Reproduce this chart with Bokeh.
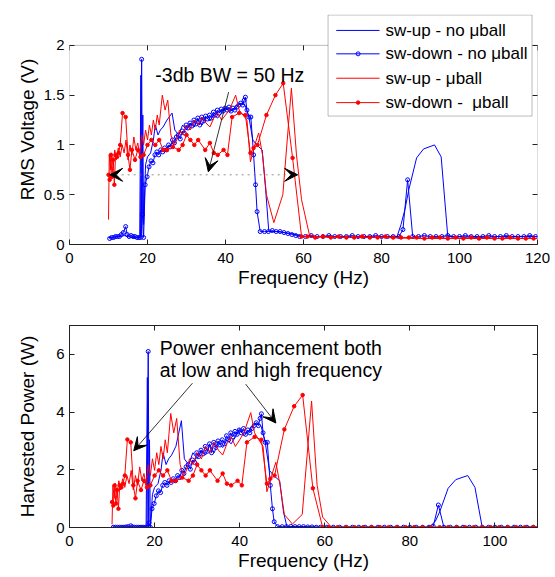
from bokeh.plotting import figure
from bokeh.models import (Range1d, LinearAxis, Label, Arrow, VeeHead, FixedTicker,
                          BoxAnnotation)
from bokeh.layouts import column
from bokeh.embed import file_html
from bokeh.resources import INLINE

FONT = "Liberation Sans"
BLUE = "#0000FF"
RED = "#FF0000"
AX = "#222222"

# ---------------- data (frequency in Hz) ----------------
# sw-up - no ball
f_up_nb = [10, 11, 12, 13, 14, 15, 16, 17, 18, 18.3,
           18.5, 18.8, 19.0, 19.5, 20.0, 20.8, 21.5, 22.0, 22.7, 23.3,
           24.0, 25.0, 26.3, 27.0, 28.0, 29.0, 30.0, 31.0, 32.0, 33.0,
           34.0, 35.0, 36.0, 37.0, 38.0, 39.0, 40.0, 41.0, 42.0, 43.0,
           44.0, 45.0, 46.0, 47.0, 48.0, 49.4, 50.3, 51.1, 53.0, 55.0,
           57.0, 60.0, 65.0, 70.0, 75.0, 80.0, 84.0, 85.0, 86.0, 87.0,
           89.0, 90.8, 93.6, 95.3, 97.0, 100.0, 105.0, 110.0, 115.0, 120.0]
v_up_nb = [0.07, 0.07, 0.08, 0.08, 0.09, 0.08, 0.07, 0.07, 0.07, 1.70,
           0.08, 1.30, 0.20, 0.80, 0.88, 0.92, 1.05, 1.20, 1.10, 1.15,
           1.18, 1.25, 1.32, 1.15, 1.10, 1.20, 1.15, 1.22, 1.18, 1.26,
           1.20, 1.28, 1.24, 1.30, 1.27, 1.32, 1.38, 1.33, 1.36, 1.40,
           1.42, 1.40, 1.28, 1.05, 1.00, 0.95, 0.55, 0.13, 0.13, 0.12,
           0.11, 0.08, 0.08, 0.08, 0.07, 0.08, 0.08, 0.20, 0.35, 0.55,
           0.87, 0.96, 1.00, 0.88, 0.08, 0.08, 0.07, 0.08, 0.08, 0.08]
p_up_nb = [0.01, 0.01, 0.01, 0.01, 0.01, 0.01, 0.01, 0.01, 0.01, 5.20,
           0.01, 3.04, 0.07, 1.15, 1.39, 1.52, 1.98, 2.59, 2.18, 2.38,
           2.51, 2.81, 3.70, 2.38, 2.18, 2.59, 2.38, 2.68, 2.51, 2.86,
           2.59, 2.95, 2.77, 3.04, 2.90, 3.14, 3.43, 3.18, 3.33, 3.53,
           3.63, 3.53, 2.95, 1.98, 1.80, 1.62, 0.54, 0.03, 0.03, 0.03,
           0.02, 0.01, 0.01, 0.01, 0.01, 0.01, 0.01, 0.07, 0.22, 0.54,
           1.36, 1.66, 1.80, 1.39, 0.01, 0.01, 0.01, 0.01, 0.01, 0.01]

# sw-down - no ball
f_dn_nb = [10.3, 10.8, 11.3, 11.8, 12.3, 12.8, 13.3, 13.8, 14.4, 14.8,
           15.3, 15.8, 16.3, 16.8, 17.3, 17.8, 18.2, 18.5, 18.7, 19.0,
           19.4, 19.9, 20.4, 20.9, 21.4, 21.9, 22.4, 22.9, 23.4, 23.9,
           24.4, 24.9, 25.4, 25.9, 26.4, 26.9, 27.4, 27.9, 28.4, 28.9,
           29.4, 29.9, 30.4, 30.9, 31.4, 31.9, 32.4, 32.9, 33.4, 33.9,
           34.4, 34.9, 35.4, 35.9, 36.4, 36.9, 37.4, 37.9, 38.4, 38.9,
           39.4, 39.9, 40.4, 40.9, 41.4, 41.9, 42.4, 42.9, 43.4, 43.9,
           44.4, 44.8, 45.1, 45.5, 46.0, 46.5, 47.2, 47.7, 48.1, 48.9,
           50.0, 51.0, 52.0, 53.0, 54.0, 55.0, 56.0, 57.0, 58.0, 59.0,
           60.5, 62.0, 63.5, 65.0, 66.5, 68.0, 69.5, 71.0, 72.5, 74.0,
           75.5, 77.0, 78.5, 80.0, 81.5, 83.0, 84.5, 85.5, 86.7, 88.0,
           89.5, 91.0, 92.5, 94.0, 95.5, 97.0, 98.5, 100.0, 101.5, 103.0,
           104.5, 106.0, 107.5, 109.0, 110.5, 112.0, 113.5, 115.0, 116.5, 118.0,
           119.5]
v_dn_nb = [0.06, 0.07, 0.07, 0.08, 0.08, 0.08, 0.10, 0.12, 0.18, 0.10,
           0.08, 0.09, 0.08, 0.08, 0.07, 0.07, 0.07, 1.86, 0.30, 0.07,
           0.60, 0.68, 0.78, 0.84, 0.82, 0.90, 0.93, 0.90, 0.95, 0.93,
           0.97, 0.95, 1.00, 0.98, 1.05, 1.02, 1.08, 1.10, 1.06, 1.14,
           1.12, 1.20, 1.17, 1.22, 1.19, 1.25, 1.21, 1.27, 1.20, 1.28,
           1.24, 1.29, 1.26, 1.30, 1.27, 1.33, 1.30, 1.35, 1.32, 1.36,
           1.34, 1.37, 1.35, 1.38, 1.34, 1.37, 1.35, 1.38, 1.40, 1.42,
           1.40, 1.45, 1.48, 1.35, 1.28, 1.28, 0.90, 0.60, 0.33, 0.13,
           0.13, 0.13, 0.14, 0.13, 0.13, 0.12, 0.11, 0.10, 0.09, 0.08,
           0.08, 0.09, 0.08, 0.08, 0.09, 0.08, 0.08, 0.08, 0.09, 0.08,
           0.08, 0.08, 0.09, 0.08, 0.08, 0.08, 0.08, 0.15, 0.65, 0.08,
           0.08, 0.09, 0.08, 0.08, 0.08, 0.09, 0.08, 0.08, 0.09, 0.08,
           0.08, 0.08, 0.09, 0.08, 0.08, 0.09, 0.08, 0.08, 0.08, 0.09,
           0.08]
p_dn_nb = [0.01, 0.01, 0.01, 0.01, 0.01, 0.01, 0.02, 0.03, 0.06, 0.02,
           0.01, 0.01, 0.01, 0.01, 0.01, 0.01, 0.01, 6.10, 0.16, 0.01,
           0.65, 0.83, 1.10, 1.27, 1.21, 1.46, 1.56, 1.46, 1.62, 1.56,
           1.69, 1.62, 1.80, 1.73, 1.98, 1.87, 2.10, 2.18, 2.02, 2.34,
           2.26, 2.59, 2.46, 2.68, 2.55, 2.81, 2.64, 2.90, 2.59, 2.95,
           2.77, 3.00, 2.86, 3.04, 2.90, 3.18, 3.04, 3.28, 3.14, 3.33,
           3.23, 3.38, 3.28, 3.43, 3.23, 3.38, 3.28, 3.43, 3.53, 3.63,
           3.53, 3.78, 3.94, 3.28, 2.95, 2.95, 1.46, 0.65, 0.20, 0.03,
           0.03, 0.03, 0.04, 0.03, 0.03, 0.03, 0.02, 0.02, 0.01, 0.01,
           0.01, 0.01, 0.01, 0.01, 0.01, 0.01, 0.01, 0.01, 0.01, 0.01,
           0.01, 0.01, 0.01, 0.01, 0.01, 0.01, 0.01, 0.04, 0.78, 0.01,
           0.01, 0.01, 0.01, 0.01, 0.01, 0.01, 0.01, 0.01, 0.01, 0.01,
           0.01, 0.01, 0.01, 0.01, 0.01, 0.01, 0.01, 0.01, 0.01, 0.01,
           0.01]

# sw-up - ball
f_up_b = [10.0, 10.2, 10.5, 10.8, 11.2, 11.6, 12.0, 12.5, 13.0, 13.5,
          14.0, 14.5, 15.0, 15.5, 16.0, 16.5, 17.0, 17.5, 18.0, 18.5,
          19.0, 19.5, 20.0, 20.5, 21.0, 21.5, 22.0, 22.5, 23.0, 23.8,
          24.5, 25.2, 26.0, 26.8, 27.5, 28.2, 29.0, 30.0, 31.0, 32.0,
          33.0, 34.0, 35.0, 36.0, 37.0, 38.0, 39.0, 40.0, 41.0, 42.6,
          43.5, 44.5, 45.5, 46.4, 47.5, 48.5, 49.5, 50.5, 52.4, 54.7,
          56.9, 58.2, 59.5, 61.5, 63.0, 70.0, 80.0, 90.0, 100.0, 110.0,
          120.0]
v_up_b = [0.25, 0.90, 0.75, 0.92, 0.80, 0.95, 0.85, 0.97, 0.88, 1.00,
          0.92, 1.05, 0.85, 1.00, 0.90, 1.08, 0.95, 1.02, 0.90, 1.10,
          1.00, 1.15, 1.05, 1.20, 1.10, 1.25, 1.15, 1.30, 1.20, 1.50,
          1.35, 1.45, 1.10, 1.00, 1.05, 1.15, 1.10, 1.20, 1.15, 1.25,
          1.20, 1.28, 1.22, 1.18, 1.27, 1.32, 1.25, 1.30, 1.35, 1.50,
          1.35, 1.30, 1.25, 0.83, 1.00, 1.12, 0.90, 0.50, 0.22, 0.50,
          1.57, 0.90, 0.45, 0.10, 0.08, 0.07, 0.07, 0.06, 0.06, 0.06,
          0.06]
p_up_b = [0.11, 1.46, 1.01, 1.52, 1.15, 1.62, 1.30, 1.69, 1.39, 1.80,
          1.52, 1.98, 1.30, 1.80, 1.46, 2.10, 1.62, 1.87, 1.46, 2.18,
          1.80, 2.38, 1.98, 2.59, 2.18, 2.81, 2.38, 3.04, 2.59, 3.95,
          3.28, 3.78, 2.18, 1.80, 1.98, 2.38, 2.18, 2.59, 2.38, 2.81,
          2.59, 2.95, 2.68, 2.51, 2.90, 3.14, 2.81, 3.04, 3.28, 3.98,
          3.28, 3.04, 2.81, 1.24, 1.80, 2.26, 1.46, 0.45, 0.12, 0.45,
          4.38, 1.46, 0.36, 0.02, 0.01, 0.01, 0.01, 0.01, 0.01, 0.01,
          0.01]

# sw-down - ball
f_dn_b = [10.0, 10.3, 10.6, 10.9, 11.2, 11.5, 11.8, 12.2, 12.6, 13.0,
          13.6, 14.4, 15.0, 15.5, 16.0, 16.8, 17.5, 18.2, 19.0, 20.0,
          21.0, 22.0, 23.0, 24.0, 25.0, 26.5, 28.0, 29.0, 30.0, 31.0,
          32.0, 33.0, 34.8, 36.0, 37.0, 38.0, 39.5, 40.5, 41.7, 43.5,
          45.1, 46.4, 47.2, 48.2, 50.5, 52.8, 54.8, 57.2, 59.5, 61.0,
          63.0, 65.0, 67.0, 69.0, 71.0, 73.0, 75.0, 77.0, 79.0, 81.0,
          83.0, 85.0, 87.0, 89.0, 91.0, 93.0, 95.0, 97.0, 99.0, 101.0,
          103.0, 105.0, 107.0, 109.0, 111.0, 113.0, 115.0, 117.0, 119.0]
v_dn_b = [0.70, 0.65, 0.90, 0.68, 0.85, 0.60, 0.90, 0.88, 0.92, 1.00,
          1.32, 1.28, 0.90, 0.75, 0.95, 0.85, 0.95, 0.88, 0.90, 1.00,
          1.05, 1.00, 1.05, 0.95, 0.95, 0.98, 0.95, 1.00, 1.10, 1.05,
          1.00, 1.05, 0.95, 1.02, 0.92, 0.90, 0.95, 0.90, 1.28, 1.32,
          1.30, 0.92, 0.97, 1.00, 1.30, 1.50, 1.62, 0.87, 0.08, 0.08,
          0.07, 0.08, 0.07, 0.08, 0.07, 0.07, 0.08, 0.07, 0.07, 0.08,
          0.07, 0.07, 0.07, 0.07, 0.06, 0.07, 0.07, 0.06, 0.07, 0.06,
          0.07, 0.06, 0.07, 0.06, 0.06, 0.07, 0.06, 0.06, 0.06]
p_dn_b = [0.88, 0.76, 1.46, 0.83, 1.30, 0.65, 1.46, 1.39, 1.52, 1.80,
          3.05, 2.95, 1.46, 1.01, 1.62, 1.30, 1.62, 1.39, 1.46, 1.80,
          1.98, 1.80, 1.98, 1.62, 1.62, 1.73, 1.62, 1.80, 2.18, 1.98,
          1.80, 1.98, 1.62, 1.87, 1.52, 1.46, 1.62, 1.46, 2.95, 3.14,
          3.04, 1.52, 1.69, 1.80, 3.40, 4.20, 4.59, 1.36, 0.01, 0.01,
          0.01, 0.01, 0.01, 0.01, 0.01, 0.01, 0.01, 0.01, 0.01, 0.01,
          0.01, 0.01, 0.01, 0.01, 0.01, 0.01, 0.01, 0.01, 0.01, 0.01,
          0.01, 0.01, 0.01, 0.01, 0.01, 0.01, 0.01, 0.01, 0.01]

legend_labels = ["sw-up - no \u03bcball", "sw-down - no \u03bcball",
                 "sw-up - \u03bcball", "sw-down - \u00a0\u03bcball"]
legend_colors = [BLUE, BLUE, RED, RED]
legend_markers = [None, "open", None, "dot"]

x1_ticks = [0, 20, 40, 60, 80, 100, 120]
y1_ticks = [0, 0.5, 1, 1.5, 2]
y1_tick_labels = {0: "0", 0.5: "0.5", 1: "1", 1.5: "1.5", 2: "2"}
x2_ticks = [0, 20, 40, 60, 80, 100]
y2_ticks = [0, 2, 4, 6]


def tick_axis(ticks, line=True):
    return LinearAxis(ticker=FixedTicker(ticks=ticks),
                      major_label_overrides={t: "" for t in ticks},
                      major_label_text_color=None, major_label_text_font_size="8px",
                      major_tick_in=5, major_tick_out=0, minor_tick_in=0, minor_tick_out=0,
                      axis_line_color=AX if line else None, major_tick_line_color=AX,
                      major_label_standoff=0)


def style(p, xt, yt, ylabels=None, ystandoff=2):
    p.xgrid.visible = False
    p.ygrid.visible = False
    p.xaxis.ticker = FixedTicker(ticks=xt)
    p.yaxis.ticker = FixedTicker(ticks=yt)
    if ylabels:
        p.yaxis.major_label_overrides = ylabels
    for ax in [p.xaxis[0], p.yaxis[0]]:
        ax.major_tick_in = 5
        ax.major_tick_out = 0
        ax.minor_tick_in = 0
        ax.minor_tick_out = 0
        ax.axis_line_color = AX
        ax.major_tick_line_color = AX
        ax.major_label_text_font = FONT
        ax.major_label_text_font_size = "15px"
        ax.major_label_text_color = "black"
        ax.axis_label_text_font = FONT
        ax.axis_label_text_font_size = "19px"
        ax.axis_label_text_font_style = "normal"
        ax.axis_label_text_color = "black"
    p.xaxis.major_label_standoff = 8
    p.xaxis.axis_label_standoff = 1
    p.yaxis.major_label_standoff = 5
    p.yaxis.axis_label_standoff = ystandoff


def draw(p, yu_nb, yd_nb, yu_b, yd_b):
    p.line(f_up_nb, yu_nb, line_color=BLUE, line_width=1)
    p.line(f_dn_nb, yd_nb, line_color=BLUE, line_width=1)
    p.scatter(f_dn_nb, yd_nb, marker="circle", size=4, line_color=BLUE,
              fill_color=None, line_width=1)
    p.line(f_up_b, yu_b, line_color=RED, line_width=1)
    p.line(f_dn_b, yd_b, line_color=RED, line_width=1)
    p.scatter(f_dn_b, yd_b, marker="circle", size=3.5, line_color=RED, fill_color=RED)


# ---------------- top figure ----------------
# frame extends up to the legend's top edge; the axes box is drawn at y = 2
p1 = figure(width=550, height=290, output_backend="svg", toolbar_location=None,
            x_range=Range1d(0, 120), y_range=Range1d(0, 2.31),
            min_border_left=69, min_border_right=13, min_border_top=14,
            min_border_bottom=45)
p1.outline_line_color = None
p1.xaxis.axis_label = "Frequency (Hz)"
p1.yaxis.axis_label = "RMS Voltage (V)"
style(p1, x1_ticks, y1_ticks, y1_tick_labels, ystandoff=3)
p1.yaxis.axis_line_color = None
p1.add_layout(tick_axis(y1_ticks, line=False), "right")
p1.add_layout(BoxAnnotation(left=0, right=120, bottom=0, top=2, fill_color=None,
                            line_color=AX, line_width=1, level="underlay"))
p1.segment(x0=x1_ticks, y0=[2] * len(x1_ticks), x1=x1_ticks, y1=[1.95] * len(x1_ticks),
           line_color=AX, line_width=1)
draw(p1, v_up_nb, v_dn_nb, v_up_b, v_dn_b)

# legend box (drawn by hand so that it may rise above the axes box)
LEG_L, LEG_R, LEG_B, LEG_T = 66.3, 118.6, 1.29, 2.305
p1.add_layout(BoxAnnotation(left=LEG_L, right=LEG_R, bottom=LEG_B, top=LEG_T,
                            fill_color="white", fill_alpha=1, line_color=AX, line_width=1))
row_y = [2.15, 1.915, 1.67, 1.425]
for lab, col, mk, yy in zip(legend_labels, legend_colors, legend_markers, row_y):
    p1.add_layout(Arrow(end=None, start=None, x_start=68.4, x_end=79.5, y_start=yy, y_end=yy,
                        line_color=col, line_width=1))
    p1.add_layout(Label(x=81.0, y=yy, text=lab, text_font=FONT, text_font_size="17px",
                        text_color="black", text_baseline="middle"))
    if mk == "open":
        p1.scatter([74.0], [yy], marker="circle", size=4, line_color=col, fill_color=None,
                   level="overlay")
    elif mk == "dot":
        p1.scatter([74.0], [yy], marker="circle", size=3.5, line_color=col, fill_color=col,
                   level="overlay")

p1.add_layout(Label(x=22.0, y=1.707, text="-3db BW = 50 Hz", text_font=FONT,
                    text_font_size="19.5px", text_color="black", text_baseline="alphabetic"))
p1.add_layout(Arrow(end=VeeHead(size=13, fill_color="black", line_color="black"),
                    x_start=40.8, y_start=1.53, x_end=35.6, y_end=0.73,
                    line_color="black", line_width=0.8))
p1.add_layout(Arrow(start=VeeHead(size=13, fill_color="black", line_color="black"),
                    end=VeeHead(size=13, fill_color="black", line_color="black"),
                    x_start=10.3, y_start=0.70, x_end=58.5, y_end=0.70,
                    line_color="#777777", line_width=0.8, line_dash="dotted"))
p1.add_layout(Label(x=-15.3, y=2.19, text="a)", text_font=FONT, text_font_size="21px",
                    text_color="black", text_baseline="alphabetic"))

# ---------------- bottom figure ----------------
p2 = figure(width=550, height=286, output_backend="svg", toolbar_location=None,
            x_range=Range1d(0, 110), y_range=Range1d(0, 7),
            min_border_left=69, min_border_right=13, min_border_top=35,
            min_border_bottom=49)
p2.outline_line_color = AX
p2.xaxis.axis_label = "Frequency (Hz)"
p2.yaxis.axis_label = "Harvested Power (W)"
style(p2, x2_ticks, y2_ticks, None, ystandoff=15)
p2.add_layout(tick_axis(x2_ticks), "above")
p2.add_layout(tick_axis(y2_ticks), "right")
draw(p2, p_up_nb, p_dn_nb, p_up_b, p_dn_b)

p2.add_layout(Label(x=21.2, y=6.21, text="Power enhancement both", text_font=FONT,
                    text_font_size="19.5px", text_color="black", text_baseline="alphabetic"))
p2.add_layout(Label(x=21.2, y=5.47, text="at low and high frequency", text_font=FONT,
                    text_font_size="19.5px", text_color="black", text_baseline="alphabetic"))
p2.add_layout(Arrow(end=VeeHead(size=13, fill_color="black", line_color="black"),
                    x_start=28.9, y_start=5.0, x_end=15.1, y_end=2.66,
                    line_color="black", line_width=0.8))
p2.add_layout(Arrow(end=VeeHead(size=13, fill_color="black", line_color="black"),
                    x_start=41.4, y_start=4.97, x_end=48.5, y_end=3.62,
                    line_color="black", line_width=0.8))
p2.add_layout(Label(x=0.2, y=7.24, text="x 10", text_font=FONT, text_font_size="14px",
                    text_color="black", text_baseline="alphabetic"))
p2.add_layout(Label(x=7.2, y=7.45, text="-7", text_font=FONT, text_font_size="10px",
                    text_color="black", text_baseline="alphabetic"))
p2.add_layout(Label(x=-14.0, y=7.66, text="b)", text_font=FONT, text_font_size="21px",
                    text_color="black", text_baseline="alphabetic"))

layout = column(p1, p2, spacing=0)
open("out.html", "w").write(file_html(layout, INLINE))
